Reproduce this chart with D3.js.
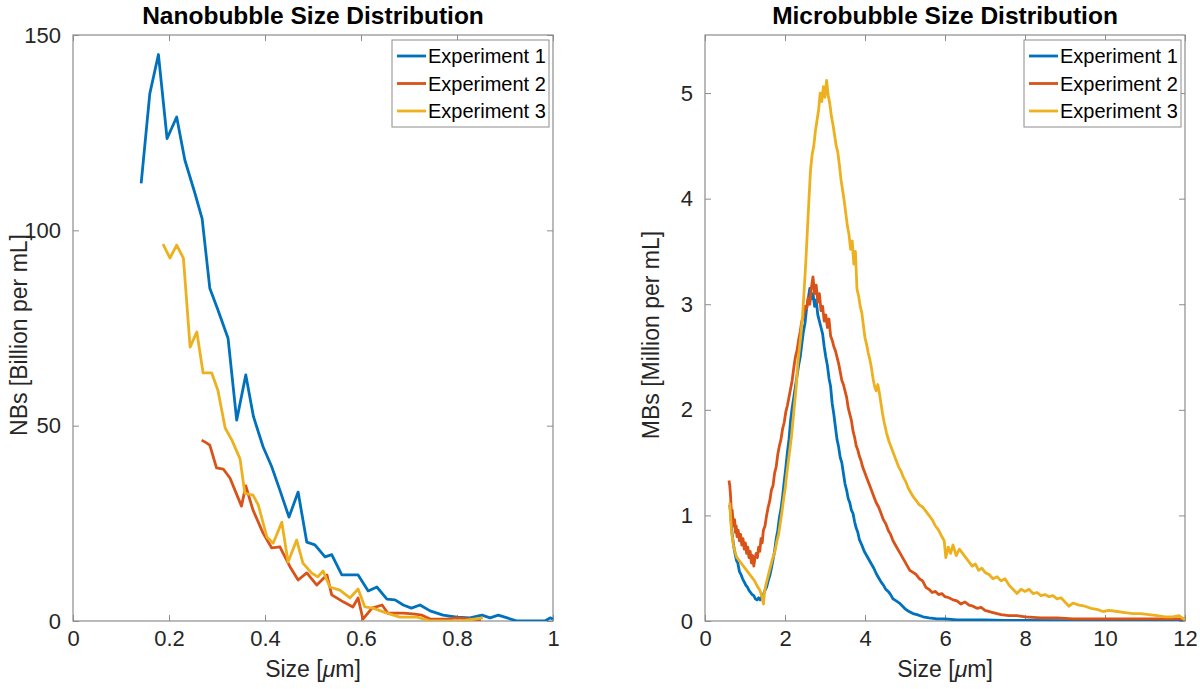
<!DOCTYPE html>
<html lang="en">
<head>
<meta charset="UTF-8">
<title>Bubble Size Distribution</title>
<script src="https://d3js.org/d3.v7.min.js"></script>
<style>
body { margin: 0; background: white; }
text { font-family: "Liberation Sans", Arial, Helvetica, sans-serif; fill: #262626; }
.title { font-weight: bold; font-size: 24.5px; fill: #000; }
.axis-label { font-size: 23px; }
.legend-text { font-size: 20px; fill: #000; }
</style>
</head>
<body>
<div id="chart"></div>
<script>

// ---- data: nanobubbles, size [um] vs count [billion per mL]
var nbExp1 = [[0.142,112],[0.16,135],[0.178,145],[0.196,123.5],[0.216,129],[0.233,118],[0.254,109.5],[0.269,103],
  [0.285,85.2],[0.302,79.6],[0.323,72.4],[0.341,51.4],[0.36,63],[0.376,52.3],[0.396,44.6],[0.414,39.5],[0.431,33.5],
  [0.45,26.6],[0.469,33],[0.487,20.2],[0.504,19.5],[0.525,16.4],[0.539,17],[0.56,11.8],[0.578,11.8],[0.594,11.8],
  [0.615,7.7],[0.633,8.7],[0.654,5.6],[0.671,5.4],[0.688,4.1],[0.705,3.3],[0.723,4.1],[0.744,2.6],[0.771,1.5],
  [0.8,1],[0.827,0.8],[0.852,1.5],[0.869,0.8],[0.886,1.5],[0.925,0],[0.983,0],[0.994,0.8],[1.0,0.5]];
var nbExp2 = [[0.268,46.3],[0.278,45.6],[0.285,45],[0.299,39.2],[0.313,38.9],[0.327,36.6],[0.351,29.4],[0.36,34.6],
  [0.375,28.4],[0.396,22.5],[0.414,18.7],[0.431,19],[0.452,13.9],[0.469,10.5],[0.487,12.3],[0.508,9.2],[0.529,11.8],
  [0.539,6.7],[0.563,4.9],[0.583,3.6],[0.594,5.9],[0.604,0.5],[0.623,3.3],[0.644,4.1],[0.656,2],[0.688,2],
  [0.708,1.8],[0.727,1.5],[0.744,0.5],[0.779,0.5],[0.8,0.8],[0.83,0.5],[0.85,0.3]];
var nbExp3 = [[0.1875,96.5],[0.202,92.9],[0.216,96.2],[0.23,92.9],[0.244,70.1],[0.258,74],[0.271,63.5],[0.289,63.5],
  [0.302,59],[0.317,49.4],[0.331,46.3],[0.348,41.5],[0.358,32.7],[0.375,32.2],[0.386,29.7],[0.404,21.5],[0.417,19.9],
  [0.435,25.3],[0.448,15.1],[0.466,20.7],[0.479,14.8],[0.497,12.3],[0.51,11.3],[0.521,12.8],[0.535,8.7],[0.556,7.9],
  [0.577,5.9],[0.594,8.2],[0.608,3.6],[0.625,3.3],[0.654,2],[0.681,1],[0.717,1],[0.744,0],[0.78,0],[0.81,0],[0.854,0.8]];

// ---- data: microbubbles, size [um] vs count [million per mL]
var mbExp1 = [[0.62,1.10],[0.64,1.02],[0.67,0.85],[0.70,0.76],[0.73,0.68],[0.76,0.62],[0.79,0.57],[0.82,0.55],[0.86,0.47],
  [0.90,0.44],[0.94,0.40],[0.98,0.37],[1.02,0.34],[1.06,0.32],[1.10,0.29],[1.14,0.27],[1.18,0.25],[1.22,0.24],[1.26,0.21],
  [1.30,0.20],[1.34,0.22],[1.38,0.20],[1.42,0.23],[1.46,0.25],[1.50,0.29],[1.54,0.32],[1.58,0.38],[1.62,0.43],[1.66,0.50],
  [1.70,0.58],[1.74,0.66],[1.78,0.78],[1.82,0.86],[1.86,0.98],[1.90,1.06],[1.94,1.18],[1.98,1.32],[2.02,1.45],[2.06,1.60],
  [2.10,1.72],[2.14,1.90],[2.18,2.02],[2.22,2.12],[2.26,2.22],[2.30,2.32],[2.34,2.42],[2.38,2.50],[2.42,2.62],[2.46,2.74],
  [2.50,2.82],[2.54,2.96],[2.58,3.05],[2.62,3.15],[2.66,3.05],[2.70,3.10],[2.74,2.98],[2.78,3.04],[2.82,2.90],[2.86,2.84],
  [2.90,2.78],[2.94,2.72],[2.98,2.60],[3.02,2.50],[3.06,2.42],[3.10,2.30],[3.14,2.22],[3.18,2.06],[3.22,1.96],[3.26,1.84],
  [3.30,1.72],[3.34,1.65],[3.38,1.55],[3.42,1.50],[3.46,1.40],[3.50,1.30],[3.54,1.24],[3.58,1.16],[3.62,1.12],[3.66,1.05],
  [3.70,1.02],[3.74,0.94],[3.78,0.88],[3.82,0.84],[3.86,0.77],[3.92,0.72],[3.98,0.66],[4.04,0.62],[4.10,0.58],[4.16,0.54],
  [4.22,0.50],[4.28,0.45],[4.34,0.41],[4.40,0.37],[4.46,0.34],[4.52,0.30],[4.58,0.28],[4.64,0.25],[4.70,0.21],[4.78,0.19],
  [4.86,0.17],[4.94,0.14],[5.02,0.11],[5.10,0.09],[5.20,0.07],[5.30,0.06],[5.45,0.04],[5.60,0.03],[5.80,0.02],[6.0,0.02],
  [6.3,0.01],[6.6,0.01],[7.0,0.01],[7.5,0.005],[8,0.005],[9,0.004],[10,0.003],[11,0.003],[12,0.002]];
var mbExp2 = [[0.60,1.33],[0.62,1.28],[0.64,1.18],[0.66,1.02],[0.68,1.05],[0.70,0.95],[0.72,0.90],[0.74,0.96],[0.76,0.84],
  [0.78,0.90],[0.80,0.80],[0.83,0.86],[0.86,0.76],[0.89,0.82],[0.92,0.72],[0.95,0.78],[0.98,0.68],[1.01,0.74],[1.04,0.64],
  [1.07,0.70],[1.10,0.60],[1.13,0.66],[1.16,0.55],[1.19,0.62],[1.22,0.52],[1.25,0.60],[1.28,0.64],[1.31,0.60],[1.34,0.70],
  [1.37,0.66],[1.40,0.78],[1.43,0.74],[1.46,0.86],[1.50,0.90],[1.54,1.00],[1.58,1.08],[1.62,1.14],[1.66,1.24],[1.70,1.28],
  [1.74,1.40],[1.78,1.46],[1.82,1.58],[1.86,1.66],[1.90,1.72],[1.94,1.82],[1.98,1.88],[2.02,1.98],[2.06,2.04],[2.10,2.12],
  [2.14,2.20],[2.18,2.28],[2.22,2.40],[2.26,2.50],[2.30,2.56],[2.34,2.66],[2.38,2.74],[2.42,2.84],[2.46,2.88],[2.50,2.98],
  [2.54,2.96],[2.58,3.06],[2.62,3.00],[2.66,3.16],[2.70,3.26],[2.74,3.10],[2.78,3.18],[2.82,3.02],[2.86,3.10],[2.90,2.94],
  [2.94,2.98],[2.98,2.84],[3.02,2.90],[3.06,2.78],[3.10,2.86],[3.14,2.70],[3.18,2.66],[3.22,2.60],[3.26,2.56],[3.30,2.50],
  [3.34,2.44],[3.38,2.36],[3.42,2.28],[3.46,2.24],[3.50,2.18],[3.54,2.12],[3.58,2.02],[3.62,1.96],[3.66,1.90],[3.70,1.80],
  [3.74,1.74],[3.78,1.66],[3.82,1.62],[3.86,1.56],[3.90,1.52],[3.94,1.46],[3.98,1.42],[4.04,1.36],[4.10,1.30],[4.16,1.24],
  [4.22,1.18],[4.28,1.12],[4.34,1.08],[4.40,1.02],[4.46,0.96],[4.52,0.92],[4.58,0.86],[4.64,0.82],[4.70,0.76],[4.76,0.72],
  [4.82,0.68],[4.88,0.64],[4.94,0.60],[5.00,0.56],[5.06,0.52],[5.12,0.48],[5.20,0.46],[5.28,0.44],[5.36,0.40],[5.44,0.38],
  [5.52,0.32],[5.60,0.30],[5.68,0.27],[5.76,0.28],[5.84,0.25],[5.92,0.26],[6.00,0.23],[6.10,0.22],[6.20,0.20],[6.30,0.19],
  [6.40,0.16],[6.50,0.18],[6.60,0.15],[6.70,0.14],[6.80,0.12],[6.90,0.13],[7.00,0.10],[7.20,0.08],[7.40,0.06],[7.60,0.05],
  [7.80,0.05],[8.0,0.04],[8.4,0.03],[8.8,0.03],[9.2,0.02],[9.6,0.02],[10,0.02],[10.5,0.02],[11,0.02],[11.5,0.02],[12,0.02]];
var mbExp3 = [[0.62,1.12],[0.64,0.98],[0.66,0.86],[0.68,0.80],[0.71,0.72],[0.74,0.67],[0.77,0.63],[0.80,0.60],[0.84,0.58],
  [0.88,0.56],[0.92,0.54],[0.96,0.52],[1.00,0.50],[1.04,0.48],[1.08,0.46],[1.12,0.44],[1.16,0.42],[1.20,0.40],[1.24,0.38],
  [1.28,0.35],[1.32,0.32],[1.36,0.30],[1.40,0.26],[1.43,0.22],[1.46,0.16],[1.49,0.28],[1.52,0.34],[1.56,0.40],[1.60,0.46],
  [1.64,0.52],[1.68,0.58],[1.72,0.62],[1.76,0.68],[1.80,0.76],[1.84,0.82],[1.88,0.92],[1.92,1.02],[1.96,1.14],[2.00,1.24],
  [2.04,1.38],[2.08,1.50],[2.12,1.62],[2.16,1.74],[2.20,1.90],[2.24,2.06],[2.28,2.22],[2.32,2.44],[2.36,2.58],[2.40,2.72],
  [2.44,2.90],[2.48,3.14],[2.52,3.40],[2.56,3.70],[2.60,4.00],[2.64,4.28],[2.68,4.42],[2.72,4.50],[2.76,4.64],[2.80,4.74],
  [2.84,4.84],[2.88,5.00],[2.92,4.92],[2.96,5.06],[3.00,4.96],[3.04,5.12],[3.08,4.98],[3.12,4.90],[3.16,4.78],[3.20,4.70],
  [3.24,4.60],[3.28,4.50],[3.32,4.44],[3.36,4.32],[3.40,4.18],[3.44,4.08],[3.48,3.98],[3.52,3.86],[3.56,3.74],[3.60,3.66],
  [3.64,3.52],[3.68,3.60],[3.72,3.38],[3.76,3.50],[3.80,3.14],[3.84,3.08],[3.88,2.98],[3.92,2.92],[3.96,2.80],
  [4.00,2.68],[4.04,2.62],[4.08,2.54],[4.12,2.48],[4.16,2.40],[4.20,2.30],[4.24,2.22],[4.28,2.18],[4.32,2.24],[4.36,2.16],
  [4.40,2.06],[4.44,1.96],[4.48,1.88],[4.54,1.78],[4.60,1.70],[4.66,1.64],[4.72,1.58],[4.78,1.52],[4.84,1.46],[4.90,1.42],
  [4.96,1.36],[5.02,1.32],[5.08,1.26],[5.14,1.22],[5.20,1.18],[5.28,1.14],[5.36,1.10],[5.44,1.08],[5.52,1.04],[5.60,1.00],
  [5.68,0.96],[5.76,0.90],[5.84,0.86],[5.92,0.80],[5.98,0.76],[6.02,0.60],[6.08,0.70],[6.14,0.64],[6.20,0.72],[6.28,0.62],
  [6.36,0.68],[6.44,0.64],[6.52,0.60],[6.60,0.56],[6.68,0.52],[6.76,0.54],[6.84,0.48],[6.92,0.50],[7.00,0.46],[7.10,0.44],
  [7.20,0.40],[7.30,0.42],[7.40,0.38],[7.50,0.40],[7.60,0.34],[7.70,0.30],[7.80,0.26],[7.90,0.30],[8.00,0.28],[8.10,0.30],
  [8.20,0.26],[8.30,0.27],[8.40,0.24],[8.50,0.25],[8.60,0.23],[8.70,0.24],[8.80,0.21],[8.90,0.22],[9.00,0.18],[9.10,0.14],
  [9.20,0.17],[9.35,0.15],[9.50,0.14],[9.65,0.12],[9.80,0.11],[9.95,0.09],[10.10,0.10],[10.30,0.09],[10.50,0.08],
  [10.70,0.07],[10.90,0.07],[11.10,0.06],[11.30,0.05],[11.50,0.04],[11.70,0.04],[11.85,0.05],[12.00,0.01]];

var seriesNames = ["Experiment 1", "Experiment 2", "Experiment 3"];
var nbTicksX = [0, 0.2, 0.4, 0.6, 0.8, 1];
var nbTicksY = [0, 50, 100, 150];
var mbTicksX = [0, 2, 4, 6, 8, 10, 12];
var mbTicksY = [0, 1, 2, 3, 4, 5];

var colors = ["#0072BD", "#D95319", "#EDB120"];

var svg = d3.select("#chart").append("svg")
  .attr("width", 1200)
  .attr("height", 689);

function drawPanel(p) {
  var g = svg.append("g").attr("transform", "translate(" + p.left + "," + p.top + ")");
  var x = d3.scaleLinear().domain(p.xDomain).range([0, p.width]);
  var y = d3.scaleLinear().domain(p.yDomain).range([p.height, 0]);

  var clipId = "clip-" + p.id;
  g.append("clipPath").attr("id", clipId)
    .append("rect").attr("width", p.width).attr("height", p.height);

  // ticks on all four sides, pointing inward (matlab style)
  var tl = 6;
  var plain = function(d) { return String(d); };
  g.append("g").attr("transform", "translate(0," + p.height + ")")
    .call(d3.axisBottom(x).tickValues(p.xTicks).tickSize(-tl).tickPadding(9).tickFormat(plain));
  g.append("g")
    .call(d3.axisTop(x).tickValues(p.xTicks).tickSize(-tl).tickFormat(""));
  g.append("g")
    .call(d3.axisLeft(y).tickValues(p.yTicks).tickSize(-tl).tickPadding(12).tickFormat(plain));
  g.append("g").attr("transform", "translate(" + p.width + ",0)")
    .call(d3.axisRight(y).tickValues(p.yTicks).tickSize(-tl).tickFormat(""));
  g.selectAll(".domain").remove();
  g.selectAll(".tick line").attr("stroke", "#8c8c8c").attr("stroke-width", 1);
  g.selectAll(".tick text").attr("fill", "#262626")
    .style("font-family", "'Liberation Sans', Arial, sans-serif")
    .style("font-size", "22px");

  g.append("rect")
    .attr("width", p.width).attr("height", p.height)
    .attr("fill", "none").attr("stroke", "#8c8c8c").attr("stroke-width", 1.2);

  var line = d3.line().x(function(d) { return x(d[0]); }).y(function(d) { return y(d[1]); });
  var plot = g.append("g").attr("clip-path", "url(#" + clipId + ")");
  p.series.forEach(function(s, i) {
    plot.append("path").datum(s)
      .attr("fill", "none")
      .attr("stroke", colors[i])
      .attr("stroke-width", 2.8)
      .attr("stroke-linejoin", "round")
      .attr("d", line);
  });

  g.append("text").attr("class", "title")
    .attr("x", p.width / 2).attr("y", -11)
    .attr("text-anchor", "middle")
    .text(p.title);

  var xl = g.append("text").attr("class", "axis-label")
    .attr("x", p.width / 2).attr("y", p.height + 56)
    .attr("text-anchor", "middle");
  xl.append("tspan").text("Size [");
  xl.append("tspan").style("font-style", "italic").text("\u03bc");
  xl.append("tspan").text("m]");

  g.append("text").attr("class", "axis-label")
    .attr("transform", "translate(" + p.yLabelX + "," + (p.height / 2 + 7) + ") rotate(-90)")
    .attr("text-anchor", "middle")
    .text(p.yLabel);

  // legend, top right corner
  var lw = 157, lh = 87;
  var leg = g.append("g").attr("transform", "translate(" + (p.width - lw - 4) + ",5)");
  leg.append("rect").attr("width", lw).attr("height", lh)
    .attr("fill", "white").attr("stroke", "#8c8c8c").attr("stroke-width", 1);
  seriesNames.forEach(function(name, i) {
    var cy = 16 + i * 27.5;
    leg.append("line").attr("x1", 5).attr("x2", 34).attr("y1", cy).attr("y2", cy)
      .attr("stroke", colors[i]).attr("stroke-width", 2.8);
    leg.append("text").attr("class", "legend-text")
      .attr("x", 36).attr("y", cy + 7).text(name);
  });
}

drawPanel({
  id: "nb", left: 73, top: 35, width: 480, height: 586,
  xDomain: [0, 1], yDomain: [0, 150], xTicks: nbTicksX, yTicks: nbTicksY,
  series: [nbExp1, nbExp2, nbExp3],
  title: "Nanobubble Size Distribution",
  yLabel: "NBs [Billion per mL]", yLabelX: -46
});

drawPanel({
  id: "mb", left: 705, top: 35, width: 480, height: 586,
  xDomain: [0, 12], yDomain: [0, 5.55], xTicks: mbTicksX, yTicks: mbTicksY,
  series: [mbExp1, mbExp2, mbExp3],
  title: "Microbubble Size Distribution",
  yLabel: "MBs [Million per mL]", yLabelX: -46
});

</script>
</body>
</html>
